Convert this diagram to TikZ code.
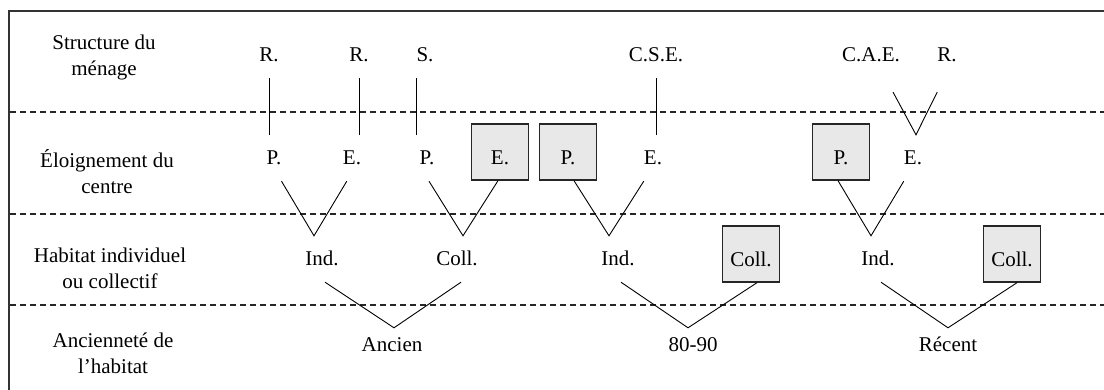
\documentclass[tikz,border=0pt]{standalone}
\usepackage{fontspec}
\setmainfont{Liberation Serif}
\newcommand{\schemafont}{\fontsize{21}{26}\selectfont}

\begin{document}
\begin{tikzpicture}
[x=1pt, y=-1pt,
 lbl/.style ={font=\schemafont, inner xsep=0pt, inner ysep=16pt, text height=14pt, text depth=0pt},
 yearlbl/.style ={lbl, inner ysep=10pt},
 rowlbl/.style ={font=\schemafont, align=center},
 choicebox/.style ={rectangle, draw=black!85, line width=1.4pt, fill=black!9, font=\schemafont, minimum width=57pt, minimum height=56pt, inner sep=0pt, text height=25pt, text depth=0pt},
 line/.style ={draw, line width=0.9pt},
 divider/.style ={draw=black!85, line width=1.6pt, dash pattern=on 6pt off 4pt}]
\useasboundingbox (0,0) rectangle (1104,390);
\draw[line width=1.6pt, black!80] (9,390) -- (9,11) -- (1104,11);
\foreach \y in {112,214,305}
  \path[divider] (10,\y) -- (1104,\y);
% row titles
\path (104,57) node[rowlbl] (menage) {Structure du\\ménage}
      (107,172) node[rowlbl] (centre) {Éloignement du\\centre}
      (110,268) node[rowlbl] (forme) {Habitat individuel\\ou collectif}
      (113,353) node[rowlbl] (age) {Ancienneté de\\l’habitat};
% structure du menage
\path (269,55) node[lbl] (r1) {R.}
      (359,55) node[lbl] (r2) {R.}
      (425,55) node[lbl] (s1) {S.}
      (656,55) node[lbl] (cse) {C.S.E.}
      (871,55) node[lbl] (cae) {C.A.E.}
      (947,55) node[lbl] (r3) {R.};
% eloignement
\path (274,158) node[lbl] (pA) {P.}
      (352,158) node[lbl] (eA) {E.}
      (427,158) node[lbl] (pB) {P.}
      (500,152) node[choicebox] (eB) {E.}
      (568,152) node[choicebox] (pC) {P.}
      (653,158) node[lbl] (eC) {E.}
      (841,152) node[choicebox] (pD) {P.}
      (913,158) node[lbl] (eD) {E.};
% habitat
\path (322,259) node[lbl] (ind1) {Ind.}
      (457,259) node[lbl] (coll1) {Coll.}
      (618,259) node[lbl] (ind2) {Ind.}
      (751,254) node[choicebox] (coll2) {Coll.}
      (878,259) node[lbl] (ind3) {Ind.}
      (1012,254) node[choicebox] (coll3) {Coll.};
% anciennete
\path (392,345) node[yearlbl] (ancien) {Ancien}
      (693,345) node[yearlbl] (annees) {80-90}
      (948,345) node[yearlbl] (recent) {Récent};
% menage -> centre
\draw[line] (r1.south) -- (r1.south |- pA.north);
\draw[line] (r2.south) -- (r2.south |- eA.north);
\draw[line] (s1.south west) -- (s1.south west |- pB.north);
\draw[line] (cse.south) -- (cse.south |- eC.north);
\draw[line] ([shift={(-7,14)}]cae.south east) -- ([xshift=3pt]eD.north) -- ([shift={(0,14)}]r3.south west);
% centre -> habitat
\draw[line] (pA.south east) -- ([xshift=-8pt]ind1.north) -- ([xshift=4pt]eA.south west);
\draw[line] ([xshift=2pt]pB.south) -- ([xshift=6pt]coll1.north) -- ([xshift=-2pt]eB.south);
\draw[line] ([xshift=6pt]pC.south) -- ([xshift=-9pt]ind2.north) -- (eC.south west);
\draw[line] ([xshift=-3pt]pD.south) -- ([xshift=-7pt]ind3.north) -- (eD.south west);
% habitat -> anciennete
\draw[line] ([xshift=3pt]ind1.south) -- ([xshift=2pt]ancien.north) -- ([xshift=4pt]coll1.south);
\draw[line] ([xshift=3pt]ind2.south) -- ([xshift=-5pt]annees.north) -- ([xshift=6pt]coll2.south);
\draw[line] ([xshift=3pt]ind3.south) -- (recent.north) -- ([xshift=5pt]coll3.south);
\end{tikzpicture}
\end{document}
